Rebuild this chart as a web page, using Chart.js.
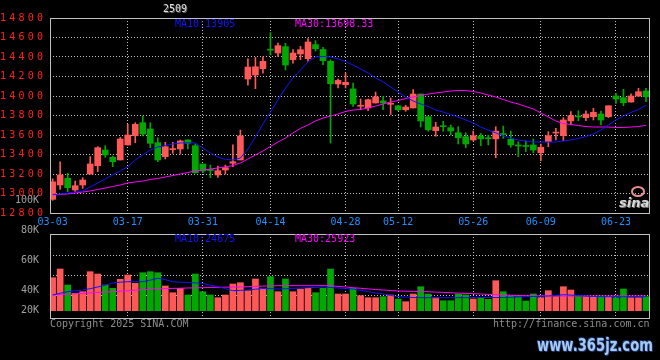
<!DOCTYPE html>
<html>
<head>
<meta charset="utf-8">
<script src="https://cdn.jsdelivr.net/npm/chart.js@4/dist/chart.umd.min.js"></script>
<style>
body { margin: 0; background: #000; }
#wrap { position: relative; width: 660px; height: 360px; overflow: hidden;
  font-family: "DejaVu Sans Mono", monospace; font-size: 10px; line-height: 10px; }
canvas { position: absolute; left: 0; top: 0; }
.t { position: absolute; white-space: nowrap; }
</style>
</head>
<body>
<div id="wrap">
  <canvas id="kline" width="660" height="360"></canvas>
  <canvas id="vol" width="660" height="360"></canvas>
  <div class="t" style="left:163px;top:4px;color:#e0e0e0;text-shadow:1px 1px 0 #606060">2509</div>
  <div class="t" style="left:175px;top:19px;color:#1414ff">MA10:13905</div>
  <div class="t" style="left:295px;top:19px;color:#ff00ff">MA30:13698.33</div>
  <div class="t" style="left:175px;top:234px;color:#1414ff">MA10:24675</div>
  <div class="t" style="left:295px;top:234px;color:#ff00ff">MA30:25923</div>
  <div class="t" style="left:50px;top:319px;color:#8c8c8c">Copyright 2025 SINA.COM</div>
  <div class="t" style="left:493px;top:319px;color:#8c8c8c">http://finance.sina.com.cn</div>
  <div class="t" style="left:631px;top:186px;width:10px;height:7px;border:2px solid #e89090;border-radius:50%"></div>
  <div class="t" style="left:619px;top:195px;font:italic bold 13px 'DejaVu Sans';color:#d8d8d8;text-shadow:1px 1px 0 #777">sina</div>
  <div class="t" style="left:537px;top:336px;font:bold 17px 'DejaVu Sans';line-height:18px;color:#a9c8ee;transform:scaleX(0.775);transform-origin:0 0;text-shadow:0 0 2px #173a78,1px 1px 0 #173a78,-1px -1px 0 #173a78">www.365jz.com</div>
</div>
<script>
// daily candles 2025-03-03 .. 2025-06-27 (index = trading day)
const opens = [12940,13087,13156,13036,13087,13200,13285,13446,13371,13344,
  13498,13593,13726,13662,13521,13378,13450,13457,13549,13490,
  13303,13246,13190,13241,13310,13344,14174,14215,14280,14480,
  14441,14506,14372,14431,14383,14527,14477,14356,14123,14116,
  14072,13895,13877,13928,13950,13915,13900,13859,13877,14020,
  13788,13644,13695,13675,13624,13583,13549,13590,13570,13560,
  13615,13556,13495,13490,13498,13418,13532,13620,13593,13744,
  13795,13778,13788,13815,13788,14000,13983,13938,14000,14051];
const highs = [13150,13326,13207,13128,13162,13378,13480,13490,13385,13576,
  13710,13726,13795,13726,13572,13525,13525,13549,13552,13508,
  13303,13292,13282,13292,13498,13651,14380,14395,14403,14650,
  14544,14540,14475,14509,14588,14567,14500,14372,14174,14236,
  14133,13970,13969,14041,13995,13980,13905,13905,14065,14020,
  13788,13730,13740,13703,13685,13624,13641,13617,13600,13685,
  13692,13641,13531,13540,13559,13508,13634,13669,13778,13839,
  13849,13849,13874,13846,13900,14028,14069,14021,14079,14079];
const lows = [12930,13043,13019,13019,13053,13200,13224,13371,13275,13344,
  13498,13521,13590,13470,13326,13354,13412,13405,13457,13207,
  13213,13162,13166,13200,13275,13344,14110,14075,14233,14420,
  14407,14267,14338,14372,14356,14460,14321,13518,14082,14082,
  13894,13860,13850,13928,13860,13810,13850,13843,13877,13682,
  13638,13587,13638,13600,13508,13470,13539,13490,13498,13367,
  13566,13474,13378,13430,13418,13337,13480,13549,13542,13703,
  13747,13747,13754,13703,13778,13925,13900,13938,13993,13942];
const closes = [13120,13190,13060,13080,13138,13303,13470,13395,13326,13559,
  13600,13710,13610,13515,13344,13480,13460,13539,13515,13213,
  13231,13236,13234,13265,13326,13590,14297,14300,14356,14470,
  14516,14318,14441,14475,14554,14485,14362,14126,14160,14140,
  13918,13905,13962,13990,13928,13920,13859,13887,14020,13744,
  13654,13682,13685,13641,13572,13508,13593,13560,13562,13640,
  13605,13498,13487,13482,13446,13474,13593,13627,13754,13798,
  13785,13815,13833,13754,13900,13969,13931,14000,14044,13993];
const ma10 = [12990,12995,13005,13015,13026,13067,13108,13149,13190,13231,
  13275,13344,13395,13446,13477,13492,13508,13518,13521,13518,
  13467,13415,13374,13349,13344,13364,13456,13580,13713,13836,
  13959,14082,14185,14267,14349,14400,14405,14400,14380,14354,
  14318,14277,14236,14185,14144,14092,14041,13990,13949,13918,
  13892,13856,13836,13810,13785,13754,13723,13682,13651,13621,
  13590,13569,13549,13539,13528,13528,13528,13528,13539,13549,
  13564,13585,13610,13651,13703,13754,13795,13831,13862,13905];
const ma30 = [12985,12990,12995,13005,13015,13026,13041,13056,13072,13087,
  13108,13118,13128,13144,13154,13169,13185,13200,13215,13231,
  13241,13251,13262,13272,13287,13313,13354,13395,13436,13482,
  13528,13569,13621,13667,13703,13744,13774,13795,13815,13841,
  13856,13862,13877,13897,13918,13938,13954,13974,13990,14005,
  14020,14031,14041,14051,14056,14056,14046,14031,14010,13990,
  13964,13938,13918,13892,13867,13826,13785,13744,13718,13708,
  13697,13687,13682,13682,13682,13677,13677,13682,13687,13698];
const volumes = [53000,61700,45700,37400,39000,59000,56700,45700,42400,51400,
  55700,47400,58000,59000,58000,44700,38000,42400,35700,56700,
  39000,35700,33000,35700,46700,48000,40000,51700,42400,54000,
  39000,51700,39000,41700,42400,38000,42400,61700,36700,36700,
  42400,35000,33000,33000,34000,35700,31700,29000,36700,44000,
  36700,33000,30000,30000,36700,35700,31700,33000,31400,50000,
  39000,35000,34000,29700,36700,33000,40000,34000,44000,40700,
  34000,34000,34000,34000,34000,33000,41700,33000,33000,34000];
const volMa10 = [35700,37500,39000,40000,40700,42000,43700,45500,47700,48500,
  49000,49000,49000,50500,52400,51000,49000,48500,48200,47800,
  47200,45500,44200,42000,40000,40300,40700,41500,42200,42000,
  41700,42000,42400,42700,43000,43300,43700,43200,42700,42200,
  41700,40400,39000,37800,36700,35300,34000,33600,33200,33100,
  33000,33000,33000,33000,33000,33100,33100,33200,33200,33200,
  33200,33400,33700,34000,34200,34500,34700,35300,36000,35600,
  35200,34700,34200,34100,34000,34000,34000,34000,34000,34000];
const volMa30 = [35700,36100,36500,37000,37400,37800,38200,38600,39000,39500,
  40000,40500,41100,41700,41900,42100,42300,42500,42700,42900,
  43000,43200,43400,43500,43700,43800,44000,44300,44600,44800,
  45000,45000,45000,45000,45000,45000,45000,45000,44300,43800,
  43000,42400,41800,41200,40700,40200,39700,39500,39300,39100,
  39000,38600,38300,38000,37600,37300,37000,36700,36400,36100,
  35800,35500,35200,35000,34900,34900,34800,34700,34700,34700,
  34700,34700,34700,34700,34700,34700,34700,34700,34700,34700];

const dateTickIdx = [0, 10, 20, 29, 39, 46, 56, 65, 75];
const dateTickLabels = ['03-03','03-17','03-31','04-14','04-28','05-12','05-26','06-09','06-23'];
const volTickValues = [20000, 40000, 70000, 100000, 130000];
const volTickLabels = ['20K', '40K', '60K', '80K', '100K'];
const volGridValues = [35700, 55700, 75700];

const upColor = '#ff5858';
const downColor = '#00a800';
const gridColor = '#c4c4c4';
const dash = [1, 2];
const monoFont = { family: 'DejaVu Sans Mono', size: 10 };

const candleColor = closes.map((c, i) => (c >= opens[i] ? upColor : downColor));
const xy = arr => arr.map((v, i) => ({ x: i, y: v }));

const frame = {
  id: 'frame',
  afterDraw(c) {
    const a = c.chartArea, ctx = c.ctx;
    ctx.save();
    ctx.strokeStyle = '#c0c0c0';
    ctx.lineWidth = 1;
    ctx.strokeRect(a.left + 0.5, a.top + 0.5, a.right - a.left, a.bottom - a.top);
    ctx.restore();
  }
};

// price labels are drawn wide (extra letter spacing), only for the y ticks layer
const wideLabels = {
  id: 'wideLabels',
  beforeDraw(c) { c.ctx.letterSpacing = '0px'; },
  afterDatasetsDraw(c) { c.ctx.letterSpacing = '3.2px'; },
  afterDraw(c) { c.ctx.letterSpacing = '0px'; }
};

const xScale = (showLabels) => ({
  type: 'linear',
  offset: false,
  min: -0.35,
  max: 79.4,
  afterBuildTicks: ax => { ax.ticks = dateTickIdx.map(v => ({ value: v })); },
  ticks: {
    display: showLabels,
    autoSkip: false,
    maxRotation: 0,
    color: '#1e8fff',
    font: monoFont,
    padding: 3,
    callback: (v, i) => dateTickLabels[i]
  },
  grid: {
    offset: false,
    color: ctx => (ctx.index === 0 ? 'rgba(0,0,0,0)' : gridColor),
    drawTicks: false
  },
  border: { display: false, dash: dash },
  afterFit: s => { s.height = showLabels ? 20 : 0; }
});

new Chart(document.getElementById('kline'), {
  type: 'bar',
  data: {
    datasets: [
      { type: 'line', data: xy(ma10), borderColor: '#1414ff', borderWidth: 1, pointRadius: 0, tension: 0 },
      { type: 'line', data: xy(ma30), borderColor: '#ff00ff', borderWidth: 1, pointRadius: 0, tension: 0 },
      { data: opens.map((o, i) => ({ x: i, y: [o, closes[i]] })), backgroundColor: candleColor,
        barThickness: 6, minBarLength: 1, grouped: false },
      { data: lows.map((l, i) => ({ x: i, y: [l, highs[i]] })), backgroundColor: candleColor,
        barThickness: 1, grouped: false }
    ]
  },
  options: {
    responsive: false,
    animation: false,
    layout: { padding: { left: 0, right: 11, top: 18, bottom: 127 } },
    plugins: { legend: { display: false }, tooltip: { enabled: false } },
    scales: {
      x: xScale(true),
      y: {
        min: 12800,
        max: 14800,
        ticks: { stepSize: 200, color: '#ff2020', font: monoFont, crossAlign: 'far', padding: 0, z: 1,
          callback: v => String(v) },
        grid: { color: gridColor, drawTicks: false },
        border: { display: false, dash: dash },
        afterFit: s => { s.width = 50; }
      }
    }
  },
  plugins: [wideLabels, frame]
});

new Chart(document.getElementById('vol'), {
  type: 'bar',
  data: {
    datasets: [
      { type: 'line', data: xy(volMa10), borderColor: '#1414ff', borderWidth: 1, pointRadius: 0, tension: 0 },
      { type: 'line', data: xy(volMa30), borderColor: '#ff00ff', borderWidth: 1, pointRadius: 0, tension: 0 },
      { data: xy(volumes), backgroundColor: candleColor, barThickness: 6, base: 20000, grouped: false }
    ]
  },
  options: {
    responsive: false,
    animation: false,
    layout: { padding: { left: 0, right: 11, top: 234, bottom: 42 } },
    plugins: { legend: { display: false }, tooltip: { enabled: false } },
    scales: {
      x: xScale(false),
      y: {
        min: 12700,
        max: 96700,
        afterBuildTicks: ax => { ax.ticks = volTickValues.map(v => ({ value: v })); },
        ticks: { autoSkip: false, color: '#a0a0a0', font: monoFont, padding: 3,
          callback: (v, i) => volTickLabels[i] },
        grid: { display: false },
        border: { display: false },
        afterFit: s => { s.width = 50; }
      },
      yg: {
        position: 'left',
        min: 12700,
        max: 96700,
        afterBuildTicks: ax => { ax.ticks = volGridValues.map(v => ({ value: v })); },
        ticks: { display: false },
        grid: { color: gridColor, drawTicks: false },
        border: { display: false, dash: dash },
        afterFit: s => { s.width = 0; }
      }
    }
  },
  plugins: [frame]
});
</script>
</body>
</html>
